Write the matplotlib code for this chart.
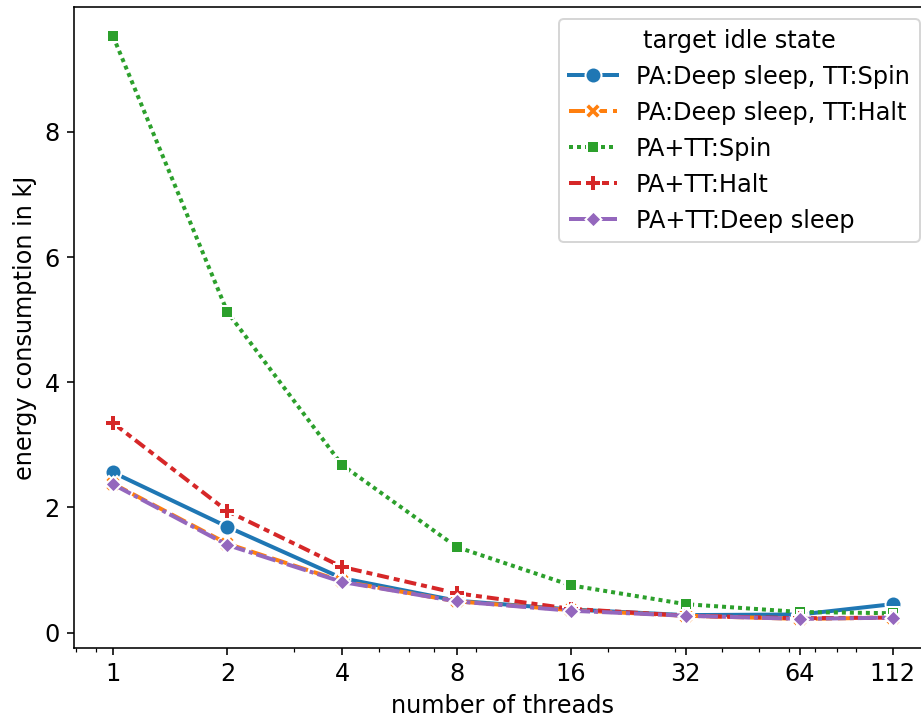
import matplotlib
matplotlib.use("Agg")
import matplotlib.pyplot as plt
import numpy as np
import pandas as pd
import seaborn as sns

plt.rcParams['font.size'] = 12

threads = [1, 2, 4, 8, 16, 32, 64, 112]

# energy per configuration, kJ
pa_deep_tt_spin = [2.56, 1.69, 0.87, 0.51, 0.37, 0.28, 0.29, 0.455]
pa_deep_tt_halt = [2.38, 1.42, 0.82, 0.50, 0.36, 0.27, 0.22, 0.24]
patt_spin = [9.53, 5.12, 2.68, 1.37, 0.755, 0.455, 0.33, 0.31]
patt_halt = [3.35, 1.94, 1.05, 0.63, 0.38, 0.27, 0.23, 0.24]
patt_deep = [2.37, 1.40, 0.81, 0.50, 0.35, 0.27, 0.22, 0.24]

states = ["PA:Deep sleep, TT:Spin", "PA:Deep sleep, TT:Halt",
          "PA+TT:Spin", "PA+TT:Halt", "PA+TT:Deep sleep"]
series = [pa_deep_tt_spin, pa_deep_tt_halt, patt_spin, patt_halt, patt_deep]

rows = []
for name, vals in zip(states, series):
    for t, v in zip(threads, vals):
        rows.append({"threads": t, "energy": v, "target idle state": name})
df = pd.DataFrame(rows)

fig = plt.figure(figsize=(921 / 144, 720 / 144), dpi=144)
ax = fig.add_axes([74 / 921, 1 - 648 / 720, (931.5 - 74) / 921, (648 - 7) / 720])

sns.lineplot(data=df, x="threads", y="energy", hue="target idle state",
             style="target idle state", hue_order=states, style_order=states,
             markers=True, dashes=True, ax=ax,
             linewidth=2, markersize=8, markeredgewidth=1)

ax.set_xscale("log")
ax.set_xticks(threads, labels=[str(t) for t in threads])
ax.set_xlabel("number of threads")
ax.set_ylabel("energy consumption in kJ")
ax.legend(title="target idle state", loc="upper right")

fig.savefig("out.png", dpi=144)
